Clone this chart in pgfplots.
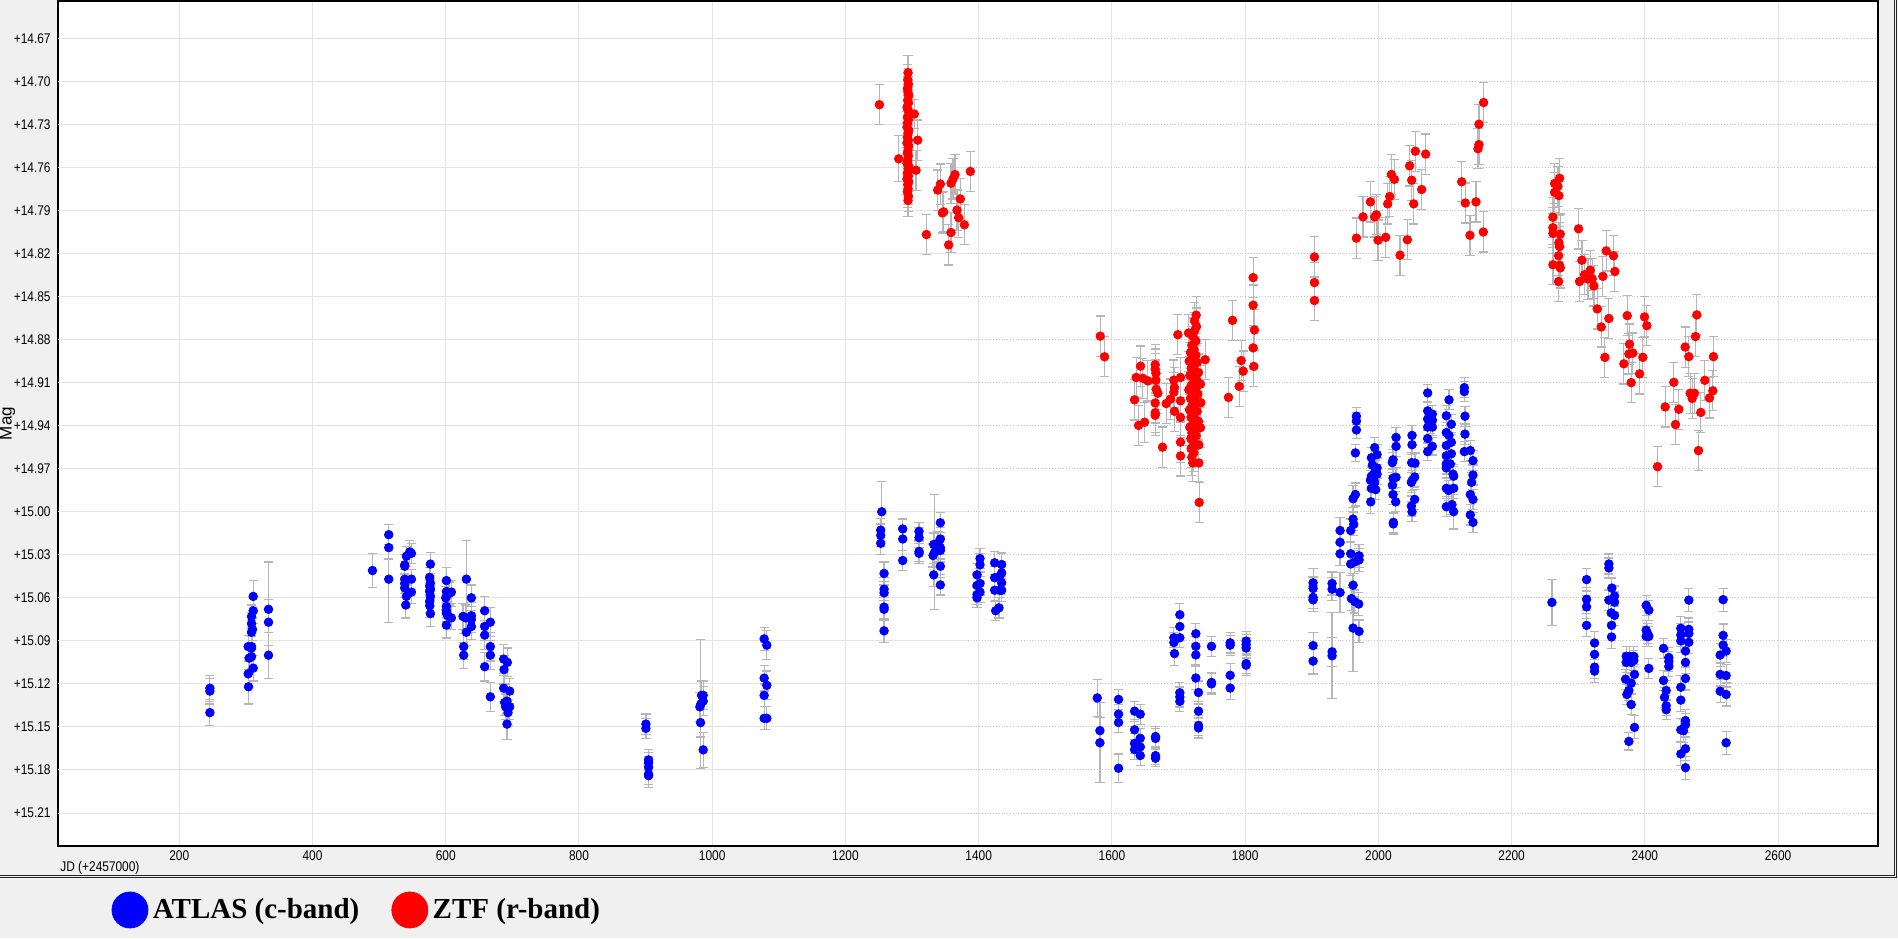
\documentclass[border=0pt]{standalone}
\usepackage{fontspec}
\setmainfont{Liberation Sans}
\newfontfamily\tickfont[FakeStretch=0.85]{Liberation Sans}
\newfontfamily\legfont{Liberation Serif}
\usepackage{pgfplots}
\usepackage{pgfplotstable}
\pgfplotsset{compat=1.18}

\definecolor{atlas}{RGB}{0,0,255}
\definecolor{ztf}{RGB}{255,0,0}
\definecolor{errgray}{RGB}{182,182,182}
\definecolor{bggray}{RGB}{240,240,240}
\definecolor{gridcol}{RGB}{228,228,228}
\definecolor{dotcol}{RGB}{200,200,200}

% ATLAS c-band: JD-2457000, mag, error
\pgfplotstableread{
x y e
246 15.123 0.009
246 15.125 0.009
246 15.140 0.009
311 15.059 0.011
311 15.069 0.009
308.5 15.073 0.008
308.5 15.078 0.008
310 15.082 0.008
308.5 15.084 0.008
303.5 15.094 0.008
308.5 15.094 0.009
308.5 15.095 0.008
305 15.102 0.009
308.5 15.101 0.008
311 15.109 0.009
303.5 15.113 0.009
304 15.122 0.012
334 15.068 0.033
334 15.077 0.016
334 15.100 0.016
490 15.041 0.012
514.5 15.016 0.007
514.5 15.025 0.008
514.5 15.047 0.030
538.5 15.037 0.007
541 15.031 0.007
546 15.028 0.008
548.5 15.029 0.007
538.5 15.038 0.008
538.5 15.047 0.007
548.5 15.047 0.007
538.5 15.050 0.007
538.5 15.053 0.007
548.5 15.056 0.008
541 15.059 0.008
540 15.065 0.009
577 15.0365 0.008
576 15.0458 0.007
577 15.0498 0.007
576 15.0516 0.007
577 15.054 0.007
576 15.0556 0.008
577 15.059 0.007
576 15.0625 0.008
576 15.0656 0.008
577 15.071 0.009
601 15.048 0.009
601 15.0556 0.008
605 15.057 0.008
608.5 15.056 0.008
600 15.060 0.008
601 15.066 0.008
601 15.0688 0.008
601 15.0707 0.008
603 15.0725 0.009
608.5 15.074 0.008
601 15.079 0.009
631 15.047 0.027
638.5 15.060 0.009
626 15.073 0.009
630 15.074 0.009
638.5 15.0725 0.009
638.5 15.075 0.009
638.5 15.080 0.009
631 15.084 0.009
627 15.094 0.009
627 15.100 0.009
658.5 15.069 0.010
667 15.077 0.010
658.5 15.080 0.010
658.5 15.086 0.010
667 15.094 0.010
667 15.100 0.010
658.5 15.108 0.010
667 15.129 0.010
687 15.1027 0.010
692.5 15.105 0.010
687.5 15.110 0.010
687 15.123 0.009
696 15.125 0.009
688.5 15.133 0.009
692 15.132 0.009
690 15.136 0.009
696 15.136 0.009
693.5 15.140 0.009
692 15.148 0.011
900.5 15.148 0.007
900.5 15.151 0.007
904.5 15.173 0.007
904.5 15.175 0.007
904.5 15.178 0.007
904.5 15.183 0.007
904.5 15.184 0.008
984 15.128 0.010
986.5 15.128 0.010
986.5 15.132 0.010
981.5 15.136 0.010
983 15.134 0.045
982.5 15.147 0.010
986.5 15.166 0.012
1078 15.0886 0.008
1082 15.093 0.010
1078 15.116 0.009
1082 15.121 0.010
1078 15.128 0.008
1078 15.144 0.008
1082 15.144 0.008
1254.5 15.000 0.021
1253 15.0128 0.008
1253 15.0165 0.008
1253 15.022 0.008
1258 15.043 0.008
1258 15.054 0.008
1258 15.0565 0.008
1258 15.0665 0.008
1258 15.068 0.008
1258 15.083 0.008
1286 15.012 0.007
1286 15.019 0.008
1286 15.034 0.007
1310.5 15.0137 0.006
1310.5 15.018 0.007
1310.5 15.0277 0.007
1310.5 15.029 0.007
1342.5 15.0077 0.007
1342.5 15.019 0.008
1332.5 15.0228 0.008
1339 15.022 0.008
1342.5 15.025 0.008
1339 15.027 0.008
1334 15.028 0.040
1342.5 15.027 0.008
1331.5 15.0305 0.008
1342.5 15.038 0.008
1332.5 15.044 0.008
1342.5 15.051 0.007
1402 15.0326 0.007
1402 15.037 0.008
1397.5 15.044 0.008
1402 15.050 0.008
1397.5 15.0514 0.008
1402 15.056 0.007
1397.5 15.0577 0.007
1397.5 15.060 0.007
1424 15.0356 0.008
1434.5 15.0368 0.008
1434.5 15.0426 0.008
1424 15.046 0.008
1431.5 15.045 0.008
1434.5 15.0495 0.008
1424 15.0547 0.008
1431.5 15.0547 0.008
1434.5 15.0547 0.008
1430.5 15.067 0.007
1425.5 15.069 0.007
1578 15.1298 0.013
1582 15.1526 0.009
1582 15.161 0.028
1610 15.1308 0.007
1610 15.1411 0.007
1610 15.1469 0.007
1610 15.1788 0.010
1634 15.139 0.007
1642.5 15.1411 0.007
1634 15.152 0.007
1642.5 15.1579 0.007
1634 15.1615 0.007
1642.5 15.1639 0.007
1634 15.1658 0.007
1642.5 15.1699 0.007
1665.5 15.1567 0.007
1665.5 15.158 0.007
1665.5 15.170 0.006
1665.5 15.1718 0.006
1702 15.0718 0.008
1702 15.080 0.008
1702 15.0878 0.007
1693 15.0878 0.007
1693 15.0912 0.007
1694 15.0989 0.008
1702 15.1262 0.007
1702 15.1291 0.007
1702 15.1322 0.007
1726 15.085 0.007
1726 15.0938 0.007
1726 15.0998 0.007
1726 15.1159 0.008
1730 15.126 0.008
1730 15.139 0.007
1730 15.149 0.007
1730 15.1507 0.007
1749.5 15.0938 0.007
1749.5 15.119 0.007
1749.5 15.120 0.007
1777.5 15.0914 0.007
1777.5 15.093 0.007
1777.5 15.114 0.008
1777.5 15.1229 0.008
1801.5 15.0902 0.007
1801.5 15.0926 0.007
1801.5 15.095 0.007
1801.5 15.1058 0.007
1801.5 15.107 0.007
1902 15.0495 0.010
1902 15.0535 0.008
1902 15.0597 0.008
1902 15.0614 0.008
1902 15.0933 0.009
1902 15.1041 0.009
1930.5 15.050 0.008
1930.5 15.054 0.008
1930.5 15.0976 0.010
1930.5 15.1004 0.030
1942.5 15.0563 0.014
1942.5 15.0131 0.009
1942.5 15.0213 0.008
1942.5 15.0293 0.008
1958.5 15.0131 0.008
1962 15.0051 0.008
1963 15.0088 0.008
1962 14.9909 0.009
1965.5 14.988 0.008
1958.5 15.0293 0.008
1958.5 15.0364 0.008
1964.5 15.035 0.008
1971 15.0307 0.008
1971 15.0336 0.008
1962 15.0512 0.008
1959.5 15.0606 0.008
1964.5 15.0626 0.008
1970.5 15.0643 0.008
1962 15.0811 0.030
1971 15.0834 0.008
1967 14.9334 0.006
1967 14.9368 0.006
1967 14.943 0.006
1965.5 14.959 0.006
1994.5 14.9553 0.007
1989.5 14.9624 0.007
1998 14.9601 0.007
1991 14.9675 0.007
1998 14.9695 0.007
1996 14.971 0.007
1989.5 14.9752 0.007
1993 14.9738 0.007
1998 14.9738 0.007
1988 14.978 0.007
1994.5 14.9795 0.007
1989.5 14.9837 0.007
1996 14.9846 0.007
1988.5 14.9931 0.008
2026.5 14.9482 0.007
2026.5 14.9544 0.007
2022 14.9638 0.007
2021 14.9658 0.007
2026.5 14.976 0.007
2022 14.9766 0.007
2021 14.9815 0.007
2022 14.988 0.007
2026 14.9931 0.007
2022.5 15.0074 0.007
2022.5 15.0085 0.007
2050.5 14.9468 0.007
2050.5 14.9533 0.007
2050 14.9658 0.007
2055 14.9661 0.007
2054.5 14.9758 0.007
2051 14.978 0.007
2049.5 14.9795 0.007
2054.5 14.9914 0.007
2049.5 14.996 0.007
2050.5 15.000 0.007
2074 14.9172 0.006
2074 14.9297 0.006
2081 14.932 0.006
2074 14.9354 0.006
2081 14.9362 0.006
2074 14.941 0.006
2081 14.941 0.006
2074 14.949 0.006
2081 14.9544 0.006
2074 14.9581 0.006
2078 14.9396 0.006
2106 14.922 0.007
2102 14.9331 0.007
2109.5 14.939 0.007
2102 14.9448 0.007
2106 14.9468 0.007
2109.5 14.9516 0.007
2102 14.9539 0.007
2102 14.961 0.007
2109.5 14.9596 0.007
2102 14.9667 0.007
2108 14.9667 0.007
2102 14.9695 0.007
2112 14.9738 0.007
2113 14.9752 0.007
2102 14.9837 0.007
2105.5 14.9852 0.007
2113 14.9837 0.007
2102 14.9965 0.007
2110.5 14.9951 0.007
2113 15.000 0.012
2129 14.9135 0.007
2129 14.9163 0.007
2130 14.9334 0.007
2130 14.9459 0.007
2129 14.9581 0.007
2138 14.9573 0.007
2142 14.9644 0.007
2142 14.9744 0.007
2140 14.9795 0.007
2138 14.988 0.007
2142 14.9914 0.007
2138 15.0022 0.007
2142 15.0074 0.007
2260.5 15.0632 0.016
2312.5 15.0473 0.008
2312.5 15.061 0.008
2312.5 15.0663 0.008
2312.5 15.0792 0.008
2324.5 15.0915 0.008
2324.5 15.0994 0.008
2324.5 15.1083 0.008
2324.5 15.1111 0.008
2346 15.0364 0.007
2346 15.0392 0.007
2350.5 15.0532 0.007
2354.5 15.0588 0.007
2346 15.0616 0.007
2354.5 15.063 0.007
2349.5 15.0705 0.007
2354.5 15.0722 0.007
2350 15.0792 0.007
2350 15.0873 0.008
2372 15.1008 0.007
2377 15.1008 0.007
2383.5 15.1008 0.007
2372 15.105 0.007
2383.5 15.1036 0.007
2379.5 15.105 0.007
2384.5 15.1134 0.007
2371 15.1167 0.007
2379.5 15.1195 0.007
2376 15.1246 0.007
2373 15.1274 0.007
2379.5 15.1344 0.007
2384.5 15.1503 0.008
2376 15.1601 0.006
2402 15.0652 0.007
2406 15.0686 0.007
2402 15.0826 0.007
2404 15.0848 0.007
2402 15.0868 0.007
2406 15.0868 0.007
2406 15.1092 0.007
2428 15.0952 0.007
2436 15.1016 0.007
2436 15.1044 0.007
2436 15.1078 0.007
2428 15.1176 0.007
2432 15.1246 0.007
2429.5 15.1293 0.007
2432 15.1352 0.007
2432 15.138 0.007
2454 15.0812 0.008
2454 15.0859 0.008
2454 15.0901 0.008
2454 15.1223 0.008
2454 15.1313 0.008
2454 15.152 0.008
2454 15.1688 0.008
2461 15.0971 0.008
2461 15.105 0.008
2461 15.1162 0.008
2466 15.0616 0.008
2466 15.082 0.008
2466 15.0848 0.008
2466 15.091 0.008
2461 15.1456 0.008
2461 15.1484 0.008
2458 15.1526 0.008
2461 15.1652 0.008
2461 15.1784 0.008
2517.5 15.0613 0.008
2517.5 15.0862 0.008
2517.5 15.0929 0.008
2522 15.0971 0.008
2513 15.0999 0.008
2513 15.1134 0.008
2522 15.1142 0.008
2513 15.1251 0.008
2522 15.1274 0.008
2522 15.161 0.008
}\atlastable

% ZTF r-band: JD-2457000, mag, error
\pgfplotstableread{
x y e
1251 14.7163 0.014
1280 14.754 0.016
1303.5 14.7228 0.010
1308.5 14.741 0.014
1306 14.762 0.014
1321.5 14.8068 0.014
1294 14.694 0.012
1293.5 14.699 0.011
1294.5 14.702 0.011
1293 14.705 0.011
1294 14.708 0.011
1295 14.710 0.011
1293.5 14.713 0.011
1294.5 14.715 0.011
1292.5 14.718 0.011
1294 14.720 0.011
1295.5 14.722 0.011
1293 14.725 0.011
1294.5 14.727 0.011
1293.5 14.729 0.011
1292.5 14.732 0.011
1295 14.734 0.011
1294 14.736 0.011
1293 14.739 0.011
1294.5 14.741 0.011
1292.5 14.743 0.011
1295 14.745 0.011
1294 14.748 0.011
1293 14.750 0.011
1294.5 14.752 0.011
1293.5 14.755 0.011
1292.5 14.757 0.011
1295 14.759 0.011
1294 14.761 0.011
1293 14.764 0.011
1294.5 14.766 0.011
1292.5 14.768 0.011
1295 14.770 0.011
1293.5 14.772 0.011
1294 14.775 0.011
1293 14.777 0.011
1294.5 14.780 0.011
1294 14.783 0.011
1338.5 14.7758 0.014
1342.5 14.7716 0.014
1358.5 14.771 0.014
1361.5 14.768 0.014
1364.5 14.765 0.014
1347.5 14.791 0.014
1345.5 14.7917 0.014
1367.5 14.7898 0.014
1370 14.795 0.014
1372.5 14.782 0.014
1378.5 14.800 0.014
1358.5 14.8054 0.014
1355 14.814 0.014
1387.5 14.7628 0.014
1582.5 14.8776 0.014
1589 14.892 0.014
1636.5 14.9064 0.014
1643 14.8985 0.014
1646.5 14.907 0.014
1654 14.9088 0.014
1634 14.922 0.014
1640 14.9398 0.014
1649 14.9376 0.014
1665 14.8975 0.014
1665 14.9006 0.014
1666 14.9035 0.014
1666 14.9083 0.014
1666.5 14.9146 0.014
1669 14.9174 0.014
1665 14.9242 0.014
1665 14.931 0.014
1665 14.9328 0.014
1676 14.955 0.014
1681.5 14.9246 0.014
1688 14.9215 0.014
1693 14.9167 0.014
1694 14.9136 0.014
1693 14.9083 0.014
1694 14.930 0.014
1699 14.8766 0.014
1703 14.9064 0.014
1703 14.9227 0.014
1703 14.9342 0.014
1703 14.9515 0.014
1703 14.9611 0.014
1726.5 14.863 0.013
1724 14.867 0.013
1727 14.871 0.013
1724 14.874 0.013
1715 14.8754 0.013
1722 14.878 0.013
1726 14.881 0.013
1720 14.884 0.013
1723.5 14.887 0.013
1718 14.889 0.013
1726 14.891 0.013
1721 14.893 0.013
1716 14.895 0.013
1728 14.896 0.013
1722.5 14.898 0.013
1719 14.900 0.013
1725 14.902 0.013
1730 14.903 0.013
1717 14.905 0.013
1721 14.906 0.013
1727 14.908 0.013
1723 14.910 0.013
1733 14.911 0.013
1719 14.912 0.013
1725.5 14.914 0.013
1715.5 14.915 0.013
1721.5 14.917 0.013
1729 14.918 0.013
1723 14.920 0.013
1718 14.921 0.013
1726 14.923 0.013
1733.5 14.924 0.013
1720.5 14.926 0.013
1724.5 14.927 0.013
1716.5 14.929 0.013
1728 14.930 0.013
1722 14.932 0.013
1719 14.934 0.013
1725 14.936 0.013
1730 14.937 0.013
1721 14.939 0.013
1717 14.941 0.013
1724 14.943 0.013
1720 14.945 0.013
1726.5 14.947 0.013
1718.5 14.949 0.013
1722 14.951 0.013
1725 14.954 0.013
1719 14.956 0.013
1723 14.959 0.013
1720 14.962 0.013
1721.5 14.966 0.013
1730.5 14.966 0.013
1731 14.9935 0.014
1740 14.894 0.014
1733 14.9414 0.014
1730.5 14.9534 0.014
1775 14.9203 0.014
1781 14.8666 0.014
1791 14.9126 0.014
1794 14.8946 0.014
1797 14.902 0.014
1812 14.8368 0.014
1812 14.856 0.014
1814 14.8733 0.014
1812 14.8858 0.014
1813 14.8987 0.014
1904 14.8224 0.014
1904 14.8403 0.014
1904 14.8528 0.014
1967 14.8093 0.014
1977 14.7945 0.014
1988 14.784 0.014
1994.5 14.7945 0.014
1997 14.793 0.014
1999.5 14.8107 0.014
2011 14.8087 0.014
2014 14.7854 0.014
2017 14.7803 0.014
2019.5 14.7649 0.014
2024 14.7683 0.014
2032.5 14.8212 0.014
2043.5 14.8104 0.014
2047 14.7589 0.014
2050 14.7689 0.014
2053 14.7854 0.014
2055.5 14.7487 0.014
2065 14.7754 0.014
2071 14.7507 0.014
2125 14.770 0.014
2130.5 14.7848 0.014
2137.5 14.8073 0.014
2146.5 14.784 0.014
2151 14.7299 0.014
2151 14.7441 0.014
2149.5 14.747 0.014
2158 14.7148 0.014
2157.5 14.805 0.014
2272 14.7676 0.014
2269.5 14.7732 0.014
2264.5 14.7712 0.014
2264.5 14.7774 0.014
2271 14.7796 0.014
2262 14.7947 0.014
2262 14.802 0.014
2262 14.8059 0.014
2273 14.8065 0.014
2271 14.8124 0.014
2272 14.8152 0.014
2270.5 14.8216 0.014
2262 14.8278 0.014
2272 14.8283 0.014
2273 14.830 0.014
2270.5 14.8395 0.014
2300.5 14.8028 0.014
2305.5 14.8247 0.014
2302 14.8395 0.014
2309.5 14.8348 0.014
2314.5 14.8378 0.014
2318 14.8317 0.014
2321 14.8376 0.014
2323.5 14.8426 0.014
2337 14.8359 0.014
2342 14.8182 0.014
2353 14.8216 0.014
2355 14.8325 0.014
2328.5 14.8586 0.014
2334.5 14.8712 0.014
2346 14.8653 0.014
2340 14.8924 0.014
2373.5 14.8633 0.014
2377 14.8832 0.014
2376 14.890 0.014
2382 14.8894 0.014
2368.5 14.8969 0.014
2379.5 14.910 0.014
2399.5 14.8642 0.014
2403 14.8703 0.014
2397 14.8924 0.014
2392 14.9039 0.014
2419 14.9686 0.014
2430.5 14.9269 0.014
2443.5 14.9098 0.014
2451 14.9286 0.014
2446 14.9392 0.014
2460.5 14.8852 0.014
2466 14.8919 0.014
2476 14.8779 0.014
2478 14.8628 0.014
2468 14.9174 0.014
2471 14.921 0.014
2474.5 14.9174 0.014
2484 14.9308 0.014
2490 14.9084 0.014
2497 14.9207 0.014
2502 14.9157 0.014
2503 14.8919 0.014
2480.5 14.9574 0.014
}\ztftable

\begin{document}
\begin{tikzpicture}
\fill[bggray] (0,0) rectangle (949pt,469pt);
\begin{axis}[
    at={(29pt,46pt)}, anchor=south west,
    scale only axis, width=910pt, height=422.5pt,
    xmin=18, xmax=2750,
    ymin=14.644, ymax=15.233,
    y dir=reverse,
    axis background/.style={fill=white},
    axis line style={line width=0.8pt},
    major tick length=0pt,
    xtick={200,400,600,800,1000,1200,1400,1600,1800,2000,2200,2400,2600},
    xticklabels={200,400,600,800,1000,1200,1400,1600,1800,2000,2200,2400,2600},
    ytick={14.67,14.70,14.73,14.76,14.79,14.82,14.85,14.88,14.91,14.94,14.97,15.00,15.03,15.06,15.09,15.12,15.15,15.18,15.21},
    yticklabels={+14.67,+14.70,+14.73,+14.76,+14.79,+14.82,+14.85,+14.88,+14.91,+14.94,+14.97,+15.00,+15.03,+15.06,+15.09,+15.12,+15.15,+15.18,+15.21},
    ticklabel style={font=\tickfont\fontsize{7}{8}\selectfont, inner sep=0pt},
    yticklabel style={xshift=-3.5pt},
    xticklabel style={yshift=-2.3pt},
    xmajorgrids, ymajorgrids,
    x grid style={gridcol, line width=0.5pt},
    y grid style={dotcol, densely dotted, line width=0.5pt},
    xlabel={JD (+2457000)},
    xlabel style={at={(axis description cs:0.0011,-0.026)}, anchor=west,
        font=\tickfont\fontsize{7}{8}\selectfont, inner sep=0pt},
    ylabel={Mag},
    ylabel style={at={(axis description cs:-0.0277,0.5)}, anchor=center,
        font=\fontsize{8.5}{10}\selectfont, inner sep=0pt},
    legend style={at={(axis description cs:0.02945,-0.0757)}, anchor=west,
        draw=none, fill=none, inner sep=0pt, outer sep=0pt,
        font=\legfont\bfseries\fontsize{14.5}{17}\selectfont,
        nodes={inner xsep=2.25pt, inner ysep=0pt},
        /tikz/every even column/.append style={column sep=13.75pt}},
    legend columns=-1,
    legend cell align=left,
]
% solid part of the horizontal grid
\pgfplotsinvokeforeach{14.67,14.70,14.73,14.76,14.79,14.82,14.85,14.88,14.91,14.94,14.97,15.00,15.03,15.06,15.09,15.12,15.15,15.18,15.21}{
    \draw[gridcol, line width=0.5pt] (axis cs:18,#1) -- (axis cs:1384,#1);
}
\addplot[forget plot, only marks, mark=*, color=atlas, mark size=2.15pt,
    mark options={line width=0.4pt, draw=atlas, fill=atlas},
    error bars/.cd, y dir=both, y explicit,
    error bar style={errgray, line width=0.6pt},
    error mark=|,
    error mark options={errgray, mark size=2.3pt, line width=0.6pt}]
    table[x=x, y=y, y error=e] {\atlastable};
\addplot[forget plot, only marks, mark=*, color=ztf, mark size=2.15pt,
    mark options={line width=0.4pt, draw=ztf, fill=ztf},
    error bars/.cd, y dir=both, y explicit,
    error bar style={errgray, line width=0.6pt},
    error mark=|,
    error mark options={errgray, mark size=2.3pt, line width=0.6pt}]
    table[x=x, y=y, y error=e] {\ztftable};
\addlegendimage{legend image code/.code={\fill[atlas] (9pt,0pt) circle (9pt);}}
\addlegendentry{ATLAS (c-band)}
\addlegendimage{legend image code/.code={\fill[ztf] (9pt,0pt) circle (9pt);}}
\addlegendentry{ZTF (r-band)}
\end{axis}
% frame of the chart panel
\draw[black!85, line width=0.5pt] (0,31.5pt) -- (947pt,31.5pt) -- (947pt,469pt);
\draw[black!85, line width=0.5pt] (0,30.3pt) -- (948.4pt,30.3pt) -- (948.4pt,469pt);
\pgfresetboundingbox
\path (0,0) rectangle (949pt,469pt);
\end{tikzpicture}
\end{document}
